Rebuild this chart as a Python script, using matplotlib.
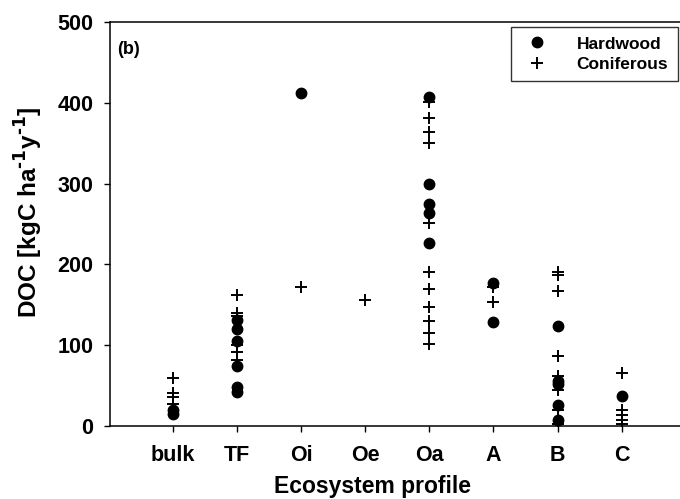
import matplotlib
matplotlib.use("Agg")
import matplotlib.pyplot as plt

plt.rcParams['font.family'] = ['Liberation Sans', 'DejaVu Sans']
plt.rcParams['font.weight'] = 'bold'
plt.rcParams['mathtext.default'] = 'bf'

categories = ["bulk", "TF", "Oi", "Oe", "Oa", "A", "B", "C"]

hardwood = {
    "bulk": [20, 15],
    "TF": [131, 120, 105, 74, 48, 42],
    "Oi": [412],
    "Oe": [],
    "Oa": [407, 300, 275, 264, 226],
    "A": [177, 129],
    "B": [124, 56, 52, 26, 8],
    "C": [37],
}
coniferous = {
    "bulk": [59, 41, 36, 27],
    "TF": [162, 140, 136, 100, 91, 82],
    "Oi": [172],
    "Oe": [156],
    "Oa": [401, 381, 364, 350, 251, 190, 169, 147, 130, 115, 101],
    "A": [172, 153],
    "B": [191, 187, 167, 87, 62, 45, 20, 3],
    "C": [66, 20, 14, 8, 3],
}

fig = plt.figure(figsize=(6.8, 4.99), dpi=100)
ax = fig.add_axes([110/680, 1-426/499, 1-110/680, (426-22)/499])

for i, c in enumerate(categories, start=1):
    hv = hardwood[c]
    cv = coniferous[c]
    ax.plot([i]*len(hv), hv, linestyle='none', marker='o', color='black',
            markersize=7.5, label='Hardwood' if i == 1 else None)
    ax.plot([i]*len(cv), cv, linestyle='none', marker='+', color='black',
            markersize=9, markeredgewidth=1.4, label='Coniferous' if i == 1 else None)

ax.set_xlim(0.02, 8.91)
ax.set_ylim(0, 500)
ax.set_xticks(range(1, len(categories)+1))
ax.set_xticklabels(categories)
ax.set_yticks([0, 100, 200, 300, 400, 500])
ax.tick_params(axis='both', direction='out', length=4, width=1, labelsize=15.5, colors='black')
ax.tick_params(axis='x', pad=10)
ax.tick_params(axis='y', pad=8)
for s in ['left', 'bottom', 'top']:
    ax.spines[s].set_linewidth(1.1)
ax.spines['right'].set_visible(False)

ax.set_xlabel("Ecosystem profile", fontsize=16.5, fontweight='bold')
ax.xaxis.set_label_coords((372-110)/570, -(487-426)/404)
ax.set_ylabel(r"DOC [kgC ha$^{\text{-}1}$y$^{\text{-}1}$]", fontsize=17.5, fontweight='bold')
ax.yaxis.set_label_coords(-(110-29)/570, (426-212)/404)
ax.yaxis.label.set_va('center')
ax.xaxis.label.set_va('center')
ax.text(0.012, 0.953, "(b)", transform=ax.transAxes, fontsize=13, fontweight='bold', va='top')

leg = ax.legend(loc='upper right', bbox_to_anchor=(0.996, 0.988), borderaxespad=0,
                frameon=True, fancybox=False,
                edgecolor='black', fontsize=12.5, handletextpad=1.4, borderpad=0.55,
                labelspacing=0.3, handlelength=1.8)
leg.get_frame().set_linewidth(1.0)
for t in leg.get_texts():
    t.set_fontweight('bold')

fig.savefig("out.png", dpi=100)
